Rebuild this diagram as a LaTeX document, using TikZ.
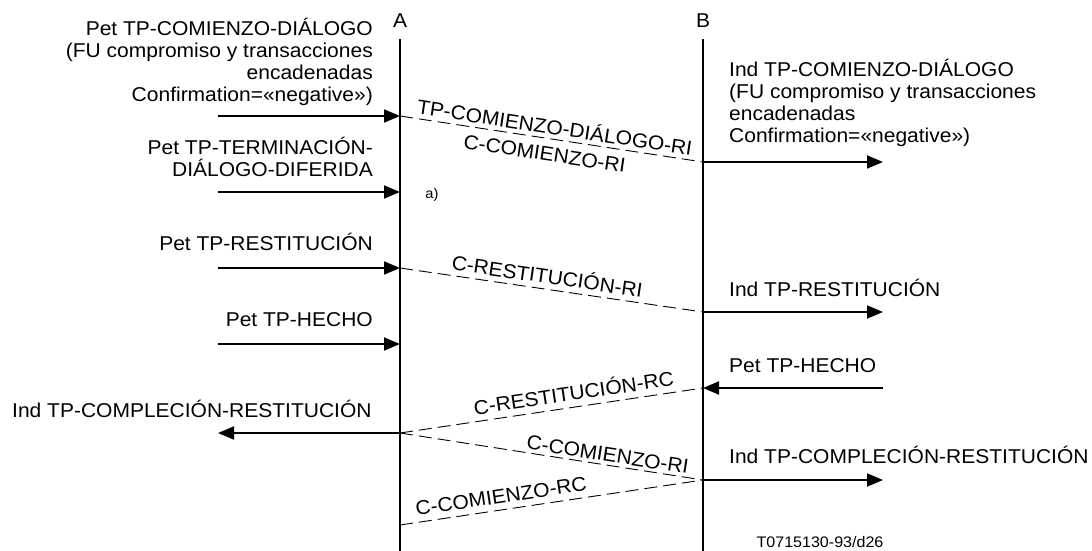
\documentclass[tikz,border=0pt]{standalone}
\usepackage{fontspec}
\setmainfont{Liberation Sans}[FakeStretch=1.05]
\usetikzlibrary{arrows.meta}
\begin{document}
\begin{tikzpicture}[x=1pt,y=-1pt,
  life/.style={line width=1.9pt},
  prim/.style={line width=1.9pt,-{Triangle[length=16pt,width=13pt]}},
  pdu/.style={line width=0.9pt,dash pattern=on 13pt off 6pt},
  txt/.style={inner sep=0pt,font=\fontsize{20}{22}\selectfont},
  blockR/.style={txt,align=right,anchor=south east,text depth=0pt},
  blockL/.style={txt,align=left,anchor=south west,text depth=0pt},
  pdulbl/.style={inner sep=0pt,sloped,font=\fontsize{20}{22}\selectfont},
]
\useasboundingbox (0,0) rectangle (1092,551);

% lifelines
\node[txt] (A) at (400,21) {A};
\node[txt] (B) at (703,21) {B};
\coordinate (Atop) at (400,39);
\coordinate (Abot) at (400,551);
\coordinate (Btop) at (703,39);
\coordinate (Bbot) at (703,551);
\draw[life] (Atop) -- (Abot);
\draw[life] (Btop) -- (Bbot);

% event points on A
\coordinate (a1) at (400,116);
\coordinate (a2) at (400,192);
\coordinate (a3) at (400,268);
\coordinate (a4) at (400,344);
\coordinate (a5) at (400,433);
\coordinate (a6) at (400,525);
% event points on B
\coordinate (b1) at (703,162);
\coordinate (b2) at (703,312);
\coordinate (b3) at (703,388);
\coordinate (b4) at (703,480);
% free ends of the service primitives
\coordinate (l1) at (218,116);
\coordinate (l2) at (218,192);
\coordinate (l3) at (218,268);
\coordinate (l4) at (218,344);
\coordinate (l5) at (218,433);
\coordinate (r1) at (883,162);
\coordinate (r2) at (883,312);
\coordinate (r3) at (883,388);
\coordinate (r4) at (883,480);

% primitives at A
\draw[prim] (l1) -- (a1);
\draw[prim] (l2) -- (a2);
\draw[prim] (l3) -- (a3);
\draw[prim] (l4) -- (a4);
\draw[prim] (a5) -- (l5);
% primitives at B
\draw[prim] (b1) -- (r1);
\draw[prim] (b2) -- (r2);
\draw[prim] (r3) -- (b3);
\draw[prim] (b4) -- (r4);

% protocol data units
\draw[pdu] (a1) -- (b1)
  node[pdulbl,pos=0.505,above=4pt] (p1) {TP-COMIENZO-DIÁLOGO-RI}
  node[pdulbl,pos=0.485,below=8pt] (p2) {C-COMIENZO-RI};
\draw[pdu] (a3) -- (b2)
  node[pdulbl,pos=0.48,above=5pt] (p3) {C-RESTITUCIÓN-RI};
\draw[pdu] (a5) -- (b3)
  node[pdulbl,pos=0.58,above=6pt] (p4) {C-RESTITUCIÓN-RC};
\draw[pdu] (a5) -- (b4)
  node[pdulbl,pos=0.68,above=3pt] (p5) {C-COMIENZO-RI};
\draw[pdu] (a6) -- (b4)
  node[pdulbl,pos=0.34,above=6pt] (p6) {C-COMIENZO-RC};

% primitive names at A
\node[blockR] (t1) at (373,102) {Pet TP-COMIENZO-DIÁLOGO\\(FU compromiso y transacciones\\encadenadas\\Confirmation=«negative»)};
\node[blockR] (t2) at (373,177) {Pet TP-TERMINACIÓN-\\DIÁLOGO-DIFERIDA};
\node[txt,anchor=base east] (t3) at (373,250) {Pet TP-RESTITUCIÓN};
\node[txt,anchor=base east] (t4) at (373,326) {Pet TP-HECHO};
\node[txt,anchor=base west] (t5) at (12,417) {Ind TP-COMPLECIÓN-RESTITUCIÓN};
\node[inner sep=0pt,font=\fontsize{14}{16}\selectfont] (note) at (432,195) {a)};

% primitive names at B
\node[blockL] (u1) at (729,143) {Ind TP-COMIENZO-DIÁLOGO\\(FU compromiso y transacciones\\encadenadas\\Confirmation=«negative»)};
\node[txt,anchor=base west] (u2) at (729,296) {Ind TP-RESTITUCIÓN};
\node[txt,anchor=base west] (u3) at (729,372) {Pet TP-HECHO};
\node[txt,anchor=base west] (u4) at (729,463) {Ind TP-COMPLECIÓN-RESTITUCIÓN};

\node[inner sep=0pt,font=\fontsize{15.3}{17}\selectfont] (ref) at (820,542) {T0715130-93/d26};
\end{tikzpicture}
\end{document}
